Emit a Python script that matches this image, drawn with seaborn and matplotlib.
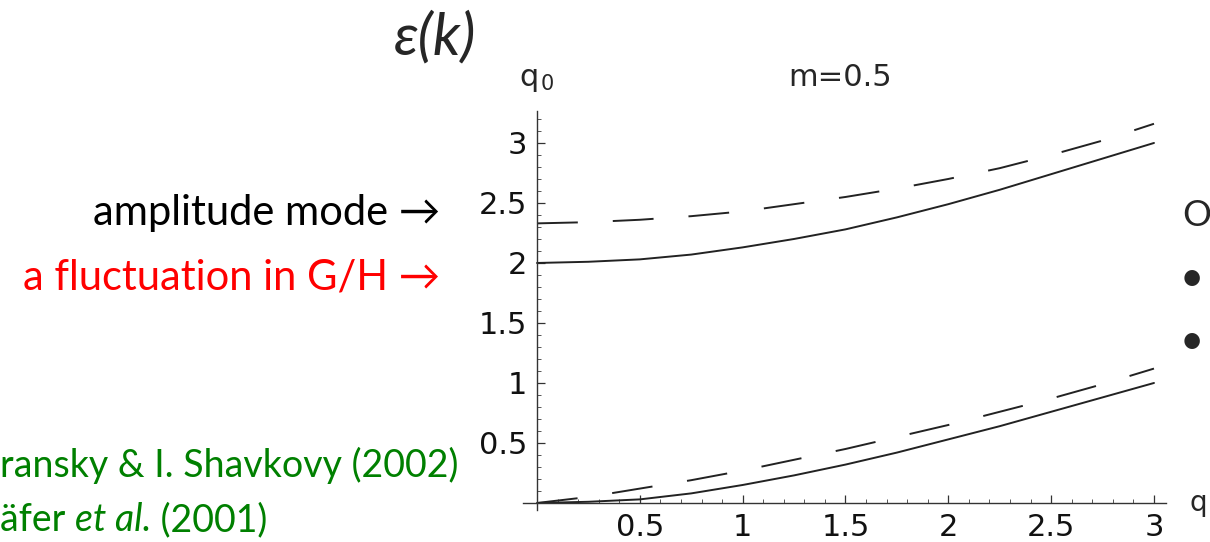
import pandas as pd
import seaborn as sns
import matplotlib.pyplot as plt
from matplotlib.ticker import MultipleLocator

# values
q = [0.0, 0.25, 0.5, 0.75, 1.0, 1.25, 1.5, 1.75, 2.0, 2.25, 2.5, 2.75, 3.0]
upper_solid = [2.0, 2.01, 2.03, 2.07, 2.13, 2.2, 2.28, 2.38, 2.49, 2.61, 2.74, 2.87, 3.0]
upper_dashed = [2.33, 2.34, 2.36, 2.39, 2.43, 2.49, 2.55, 2.62, 2.7, 2.79, 2.9, 3.02, 3.16]
lower_solid = [0.0, 0.01, 0.03, 0.08, 0.15, 0.23, 0.32, 0.42, 0.53, 0.64, 0.76, 0.88, 1.0]
lower_dashed = [0.0, 0.05, 0.12, 0.19, 0.27, 0.36, 0.45, 0.55, 0.65, 0.76, 0.87, 0.99, 1.12]
xticks = [0.5, 1, 1.5, 2, 2.5, 3]
yticks = [0.5, 1, 1.5, 2, 2.5, 3]
ticklabels = ['0.5', '1', '1.5', '2', '2.5', '3']

sns.set_style("white")
plt.rcParams['font.family'] = ['DejaVu Sans']

fig = plt.figure(figsize=(12.1, 5.42), dpi=100)
ax = fig.add_axes([0.4319, 0.0587, 0.532, 0.7373])

for ys, dashed in [(upper_solid, False), (upper_dashed, True),
                   (lower_solid, False), (lower_dashed, True)]:
    df = pd.DataFrame({'q': q, 'y': ys})
    sns.lineplot(data=df, x='q', y='y', ax=ax, color='#222222', lw=1.4)
    if dashed:
        ax.lines[-1].set_dashes((21, 18))

ax.set_xlim(-0.07, 3.06)
ax.set_ylim(-0.06, 3.27)
ax.set_xlabel('')
ax.set_ylabel('')
for s in ['top', 'right']:
    ax.spines[s].set_visible(False)
ax.spines['left'].set_position(('data', 0))
ax.spines['bottom'].set_position(('data', 0))
for s in ['left', 'bottom']:
    ax.spines[s].set_color('#333333')
    ax.spines[s].set_linewidth(1.0)

ax.set_xticks(xticks)
ax.set_xticklabels(ticklabels)
ax.set_yticks(yticks)
ax.set_yticklabels(ticklabels)
ax.xaxis.set_minor_locator(MultipleLocator(0.1))
ax.yaxis.set_minor_locator(MultipleLocator(0.1))
ax.tick_params(which='major', direction='in', length=6, width=0.9, color='#333333',
               labelsize=22, pad=7, bottom=True, left=True, labelcolor='#111111')
ax.tick_params(which='minor', direction='in', length=3, width=0.7, color='#555555',
               bottom=True, left=True)

# axis annotations from the plot itself
fig.text(529 / 1210, 1 - 78 / 542, 'q', fontsize=22, ha='center', va='center')
fig.text(547 / 1210, 1 - 84 / 542, '0', fontsize=15, ha='center', va='center')
fig.text(840 / 1210, 1 - 78 / 542, 'm=0.5', fontsize=22, ha='center', va='center')
fig.text(1207 / 1210, 1 - 503 / 542, 'q', fontsize=20, ha='right', va='center')

# slide text around the plot
slide = ['Lato', 'DejaVu Sans']
fig.text(435 / 1210, 1 - 38 / 542, 'ε(k)', fontsize=42, ha='center', va='center',
         family=slide, style='italic')
fig.text(440 / 1210, 1 - 213 / 542, 'amplitude mode →', fontsize=30, ha='right',
         va='center', family=slide, color='black')
fig.text(440 / 1210, 1 - 278 / 542, 'a fluctuation in G/H →', fontsize=30, ha='right',
         va='center', family=slide, color='#ff0000')
fig.text(0, 1 - 465 / 542, 'ransky & I. Shavkovy (2002)', fontsize=27, ha='left',
         va='center', family=slide, color='#008000')

# second reference line: plain, italic, plain pieces placed one after another
renderer = fig.canvas.get_renderer()
x0 = 0
for piece, style in [('äfer ', 'normal'), ('et al.', 'italic'), (' (2001)', 'normal')]:
    t = fig.text(x0, 1 - 520 / 542, piece, fontsize=27, ha='left', va='center',
                 family=slide, style=style, color='#008000')
    bb = t.get_window_extent(renderer)
    x0 += bb.width / fig.bbox.width

fig.text(1182 / 1210, 1 - 216 / 542, 'O', fontsize=26, ha='left', va='center',
         family=slide)
fig.text(1180 / 1210, 1 - 279 / 542, '•', fontsize=30, ha='left', va='center',
         family=slide)
fig.text(1180 / 1210, 1 - 342 / 542, '•', fontsize=30, ha='left', va='center',
         family=slide)

fig.savefig('out.png', dpi=100)
